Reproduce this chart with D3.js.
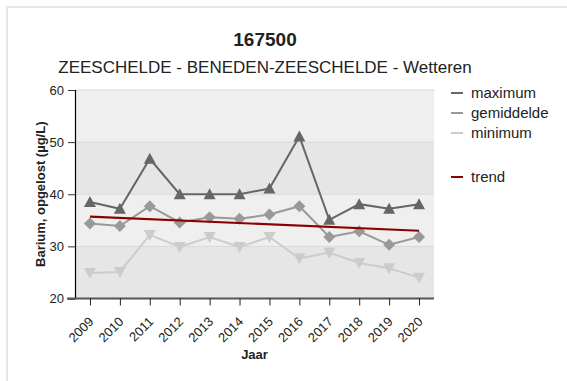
<!DOCTYPE html>
<html>
<head>
<meta charset="utf-8">
<script src="https://cdn.jsdelivr.net/npm/d3@7"></script>
<style>
  html, body { margin: 0; padding: 0; background: #fff; }
  svg { display: block; font-family: "Liberation Sans", Arial, sans-serif; }
</style>
</head>
<body>
<svg id="chart" width="567" height="381"></svg>
<script>
// Jaarlijkse waarden, Barium opgelost (µg/L), meetpunt 167500
const years = ["2009","2010","2011","2012","2013","2014","2015","2016","2017","2018","2019","2020"];
const maximum    = [38.5, 37.2, 46.8, 40.0, 40.0, 40.0, 41.1, 51.1, 35.1, 38.1, 37.2, 38.1];
const gemiddelde = [34.4, 33.9, 37.7, 34.6, 35.6, 35.3, 36.1, 37.7, 31.8, 32.9, 30.3, 31.8];
const minimum    = [24.9, 25.1, 32.2, 29.9, 31.8, 29.9, 31.8, 27.7, 28.8, 26.8, 25.8, 24.0];
const trendStart = 35.7;
const trendEnd   = 33.0;
const yTicks = [20, 30, 40, 50, 60];

const FONT = "'Liberation Sans', Arial, sans-serif";
const svg = d3.select("#chart");

// outer frame
svg.append("path")
  .attr("d", "M7,381 V7 H567")
  .attr("fill", "none").attr("stroke", "#e6e6e6").attr("stroke-width", 2);

const plot = { left: 75, right: 434, top: 90, bottom: 298.5 };

const x = d3.scalePoint().domain(years).range([plot.left, plot.right]).padding(0.5);
const y = d3.scaleLinear().domain([20, 60]).range([plot.bottom, plot.top]);

// alternating background bands
const bands = d3.pairs(yTicks);
svg.append("g").selectAll("rect").data(bands).join("rect")
  .attr("x", plot.left).attr("width", plot.right - plot.left)
  .attr("y", d => y(d[1])).attr("height", d => y(d[0]) - y(d[1]))
  .attr("fill", (d, i) => i % 2 === 0 ? "#e6e6e6" : "#efefef");

// grid lines
svg.append("g").selectAll("line").data(yTicks.slice(1)).join("line")
  .attr("x1", plot.left).attr("x2", plot.right)
  .attr("y1", d => y(d)).attr("y2", d => y(d))
  .attr("stroke", "#d8d8d8").attr("stroke-width", 1);

// y axis
const yAxis = svg.append("g").attr("transform", `translate(${plot.left},0)`)
  .call(d3.axisLeft(y).tickValues(yTicks).tickSize(7).tickPadding(4));
yAxis.select(".domain").attr("stroke", "#000").attr("stroke-width", 1.2);
yAxis.selectAll(".tick line").attr("stroke", "#333");
yAxis.selectAll("text").attr("font-size", 13).attr("fill", "#222").attr("font-family", FONT);

// x axis
const xAxis = svg.append("g").attr("transform", `translate(0,${plot.bottom})`)
  .call(d3.axisBottom(x).tickSize(7).tickSizeOuter(0));
xAxis.select(".domain").attr("stroke", "#555").attr("stroke-width", 2)
  .attr("d", `M${plot.left - 8},0H${plot.right}`);
xAxis.selectAll(".tick line").attr("stroke", "#222");
xAxis.selectAll("text")
  .attr("font-size", 13).attr("fill", "#222").attr("font-family", FONT)
  .attr("text-anchor", "end")
  .attr("x", 0).attr("y", 0).attr("dy", null)
  .attr("transform", "translate(4,24) rotate(-45)");

// series
const series = [
  { name: "maximum",    values: maximum,    color: "#666666", symbol: "up" },
  { name: "gemiddelde", values: gemiddelde, color: "#999999", symbol: "diamond" },
  { name: "minimum",    values: minimum,    color: "#cccccc", symbol: "down" }
];

const line = d3.line().x((d, i) => x(years[i])).y(d => y(d));

function markerPath(type) {
  if (type === "up") return "M0,-6L6,5L-6,5Z";
  if (type === "down") return "M0,6L6,-5L-6,-5Z";
  return "M0,-6L6,0L0,6L-6,0Z";
}

// draw from lightest to darkest so the maximum line sits on top
series.slice().reverse().forEach(s => {
  const g = svg.append("g");
  g.append("path").datum(s.values)
    .attr("d", line).attr("fill", "none")
    .attr("stroke", s.color).attr("stroke-width", 2);
  g.selectAll("path.m").data(s.values).join("path").attr("class", "m")
    .attr("transform", (d, i) => `translate(${x(years[i])},${y(d)})`)
    .attr("d", markerPath(s.symbol))
    .attr("fill", s.color);
});

// trend line
svg.append("line")
  .attr("x1", x(years[0])).attr("y1", y(trendStart))
  .attr("x2", x(years[years.length - 1])).attr("y2", y(trendEnd))
  .attr("stroke", "#8b0000").attr("stroke-width", 2.2);

// titles
svg.append("text").attr("x", 265).attr("y", 46).attr("text-anchor", "middle")
  .attr("font-size", 19).attr("font-weight", "bold").attr("fill", "#222").text("167500");
svg.append("text").attr("x", 265).attr("y", 73).attr("text-anchor", "middle")
  .attr("font-size", 17).attr("fill", "#222").text("ZEESCHELDE - BENEDEN-ZEESCHELDE - Wetteren");

// axis titles
svg.append("text").attr("transform", `translate(45,${(plot.top + plot.bottom) / 2}) rotate(-90)`)
  .attr("text-anchor", "middle").attr("font-size", 13).attr("font-weight", "bold").attr("fill", "#222")
  .text("Barium, opgelost (µg/L)");
svg.append("text").attr("x", (plot.left + plot.right) / 2).attr("y", 359).attr("text-anchor", "middle")
  .attr("font-size", 13).attr("font-weight", "bold").attr("fill", "#222").text("Jaar");

// legend
const legendItems = [
  { name: "maximum", color: "#666666", y: 93 },
  { name: "gemiddelde", color: "#999999", y: 113 },
  { name: "minimum", color: "#cccccc", y: 133 },
  { name: "trend", color: "#8b0000", y: 177 }
];
const lg = svg.append("g").selectAll("g").data(legendItems).join("g")
  .attr("transform", d => `translate(451,${d.y})`);
lg.append("line").attr("x1", 0).attr("x2", 12).attr("y1", 0).attr("y2", 0)
  .attr("stroke", d => d.color).attr("stroke-width", 2);
lg.append("text").attr("x", 20).attr("y", 0).attr("dy", "0.35em")
  .attr("font-size", 15).attr("fill", "#222").text(d => d.name);
</script>
</body>
</html>
